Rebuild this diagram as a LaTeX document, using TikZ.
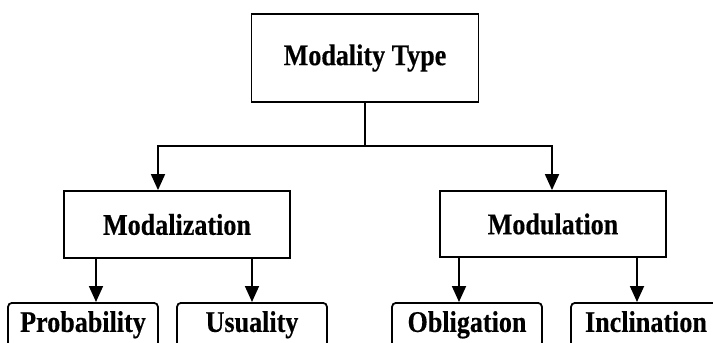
\documentclass[tikz,border=0pt]{standalone}
\usepackage{fontspec}
\setmainfont{Liberation Serif}[FakeStretch=0.87,FakeBold=0.4]
\usepackage{tikz}
\usetikzlibrary{arrows.meta,positioning}

\begin{document}
\begin{tikzpicture}[x=1pt,y=1pt,
    box/.style={draw,line width=1.8pt,inner sep=0pt,
      font=\fontsize{30}{32}\selectfont\bfseries},
    leaf/.style={box,rounded corners=4pt,minimum width=150pt,minimum height=44pt,
      anchor=north,text height=21pt,text depth=7pt},
    link/.style={line width=1.8pt},
    arr/.style={link,-{Triangle[width=14pt,length=16pt]}}]
  \useasboundingbox (0,0) rectangle (713,-343);
  \clip (0,0) rectangle (713,-343);
  \node[box,minimum width=227pt,minimum height=88pt] (type) at (365,-58) {Modality Type};
  \node[box,minimum width=226pt,minimum height=67pt] (modz) at (177,-224.5) {Modalization};
  \node[box,minimum width=226pt,minimum height=66pt] (modu) at (553,-224) {Modulation};
  \node[leaf] (prob) at (83,-302) {Probability};
  \node[leaf] (usu) at (252,-302) {Usuality};
  \node[leaf] (obl) at (467,-302) {Obligation};
  \node[leaf] (incl) at (646,-302) {Inclination};
  \coordinate (busL) at (158,-146);
  \coordinate (busR) at (552,-146);
  \draw[link] (type.south) -- (type.south |- busL);
  \draw[link,line cap=rect] (busL) -- (busR);
  \draw[arr] (busL) -- (busL |- modz.north);
  \draw[arr] (busR) -- (busR |- modu.north);
  \draw[arr] ([xshift=-81pt]modz.south) -- ([xshift=-81pt]modz.south |- prob.north);
  \draw[arr] (modz.south -| usu) -- (usu.north);
  \draw[arr] ([xshift=-94pt]modu.south) -- ([xshift=-94pt]modu.south |- obl.north);
  \draw[arr] ([xshift=84pt]modu.south) -- ([xshift=84pt]modu.south |- incl.north);
\end{tikzpicture}
\end{document}
